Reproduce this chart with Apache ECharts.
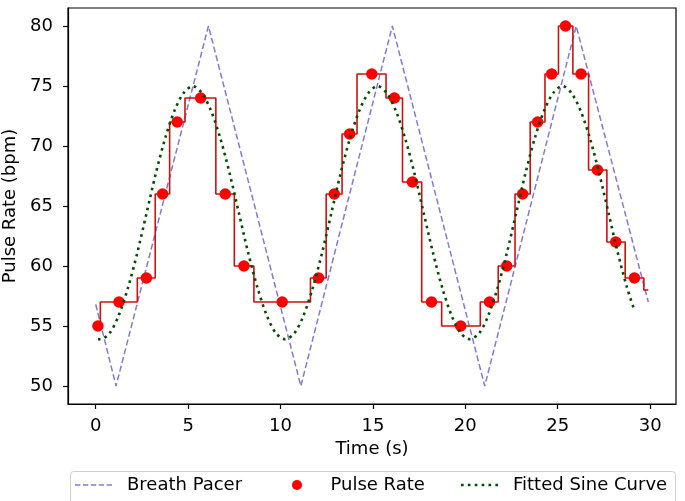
<!DOCTYPE html>
<html>
<head>
<meta charset="utf-8">
<script src="https://cdn.jsdelivr.net/npm/echarts@6/dist/echarts.min.js"></script>
<style>html,body{margin:0;padding:0;background:#fff;}#c{width:685px;height:501px;}</style>
</head>
<body>
<div id="c"></div>
<script>
// ---- data ----
var xTicks = [0, 5, 10, 15, 20, 25, 30];
var yTicks = [50, 55, 60, 65, 70, 75, 80];

var pacerTimes  = [0, 1.1, 6.1, 11.1, 16.05, 21.05, 26.0, 29.9];
var pacerValues = [56.8, 50, 80, 50, 80, 50, 80, 57];

var stepEdges  = [0, 0.25, 2.25, 3.22, 4.0, 4.83, 6.5, 7.5, 8.56, 11.62, 12.47, 13.33, 14.14, 15.71, 16.6, 17.64, 18.72, 20.81, 21.78, 22.69, 23.51, 24.31, 25.04, 25.82, 26.67, 27.66, 28.65, 29.66, 29.9];
var stepValues = [55, 57, 59, 66, 72, 74, 66, 60, 57, 59, 66, 71, 76, 74, 67, 57, 55, 57, 60, 66, 72, 76, 80, 76, 68, 62, 59, 58];

var pulseTimes  = [0.12, 1.26, 2.74, 3.62, 4.41, 5.68, 7.01, 8.02, 10.09, 12.06, 12.91, 13.74, 14.94, 16.16, 17.14, 18.17, 19.75, 21.31, 22.24, 23.1, 23.91, 24.67, 25.42, 26.26, 27.15, 28.14, 29.15];
var pulseValues = [55, 57, 59, 66, 72, 74, 66, 60, 57, 59, 66, 71, 76, 74, 67, 57, 55, 57, 60, 66, 72, 76, 80, 76, 68, 62, 59];

var sineTimes = [0.12, 0.25, 0.75, 1.25, 1.75, 2.25, 2.75, 3.25, 3.75, 4.25, 4.75, 5.25, 5.75, 6.25, 6.75, 7.25, 7.75, 8.25, 8.75, 9.25, 9.75,
  10.25, 10.75, 11.25, 11.75, 12.25, 12.75, 13.25, 13.75, 14.25, 14.75, 15.25, 15.75, 16.25, 16.75, 17.25, 17.75, 18.25, 18.75, 19.25, 19.75,
  20.25, 20.75, 21.25, 21.75, 22.25, 22.75, 23.25, 23.75, 24.25, 24.75, 25.25, 25.75, 26.25, 26.75, 27.25, 27.75, 28.25, 28.75, 29.15];
var sineValues = [53.9, 53.9, 54.4, 55.9, 58.2, 61.1, 64.4, 67.7, 70.6, 72.9, 74.4, 75.0, 74.4, 72.9, 70.6, 67.7, 64.4, 61.1, 58.2, 55.9, 54.4,
  53.9, 54.4, 55.9, 58.2, 61.1, 64.4, 67.7, 70.6, 72.9, 74.4, 75.0, 74.4, 72.9, 70.6, 67.7, 64.4, 61.1, 58.2, 55.9, 54.4,
  53.9, 54.4, 55.9, 58.2, 61.1, 64.4, 67.7, 70.6, 72.9, 74.4, 75.0, 74.4, 72.9, 70.6, 67.7, 64.4, 61.1, 58.2, 56.3];

var legendNames = ['Breath Pacer', 'Pulse Rate', 'Fitted Sine Curve'];

function zip(a, b) { return a.map(function (v, i) { return [v, b[i]]; }); }

var stepData = zip(stepEdges.slice(0, stepValues.length), stepValues);
stepData.push([stepEdges[stepEdges.length - 1], stepValues[stepValues.length - 1]]);

// legend glyphs: dashed and dotted line samples
var dashIcon = 'path://M0,0h5v1.5h-5z M7.5,0h5v1.5h-5z M15,0h5v1.5h-5z M22.5,0h5v1.5h-5z M30,0h5v1.5h-5z';
var dotIcon  = 'path://M0,0h2.5v2.5h-2.5z M6.5,0h2.5v2.5h-2.5z M13,0h2.5v2.5h-2.5z M19.5,0h2.5v2.5h-2.5z M26,0h2.5v2.5h-2.5z M32.5,0h2.5v2.5h-2.5z';
var legendIcons = [dashIcon, 'circle', dotIcon];
var legendLefts = [75, 292, 461];

var FONT = 'DejaVu Sans';
var FS = 18;

var legends = legendNames.map(function (n, i) {
  return {
    data: [{name: n, icon: legendIcons[i]}],
    left: legendLefts[i], top: 476, orient: 'horizontal',
    itemWidth: 37, itemHeight: 10, padding: 0,
    symbolKeepAspect: true,
    textStyle: {fontFamily: FONT, fontSize: FS, color: '#000', padding: [0, 0, 0, 10]}
  };
});

var chart = echarts.init(document.getElementById('c'), null, {renderer: 'canvas'});
chart.setOption({
  animation: false,
  backgroundColor: '#fff',
  grid: {left: 68, right: 9, top: 8, bottom: 97, show: true, borderColor: '#000', borderWidth: 1.2, containLabel: false, outerBoundsMode: 'none'},
  xAxis: {
    type: 'value', min: -1.5, max: 31.4,
    name: 'Time (s)', nameLocation: 'middle', nameGap: 36,
    nameTextStyle: {fontFamily: FONT, fontSize: FS, color: '#000'},
    axisLine: {show: true, onZero: false, lineStyle: {color: '#000', width: 1.2}},
    axisTick: {show: true, inside: false, length: 5, lineStyle: {color: '#000', width: 1.2}, customValues: xTicks},
    axisLabel: {fontFamily: FONT, fontSize: FS, color: '#000', margin: 13, customValues: xTicks},
    splitLine: {show: false}
  },
  yAxis: {
    type: 'value', min: 48.5, max: 81.5,
    name: 'Pulse Rate (bpm)', nameLocation: 'middle', nameGap: 37, nameRotate: 90,
    nameTextStyle: {fontFamily: FONT, fontSize: FS, color: '#000'},
    axisLine: {show: true, onZero: false, lineStyle: {color: '#000', width: 1.2}},
    axisTick: {show: true, inside: false, length: 5, lineStyle: {color: '#000', width: 1.2}, customValues: yTicks},
    axisLabel: {fontFamily: FONT, fontSize: FS, color: '#000', margin: 15, customValues: yTicks},
    splitLine: {show: false}
  },
  legend: legends,
  graphic: [{
    type: 'rect', z: -1, silent: true,
    shape: {x: 70.5, y: 471.5, width: 605, height: 40, r: 3},
    style: {fill: 'none', stroke: '#d0d0d0', lineWidth: 1}
  }],
  series: [
    {
      name: 'Breath Pacer', type: 'line', data: zip(pacerTimes, pacerValues),
      symbol: 'none', z: 2,
      lineStyle: {color: '#8478d4', width: 1.5, type: [6, 3]},
      itemStyle: {color: '#8478d4'}
    },
    {
      name: 'Pulse Step', type: 'line', data: stepData, step: 'end',
      symbol: 'none', z: 3,
      lineStyle: {color: '#cc1111', width: 1.6},
      itemStyle: {color: '#cc1111'}
    },
    {
      name: 'Pulse Rate', type: 'scatter', data: zip(pulseTimes, pulseValues),
      symbol: 'circle', symbolSize: 11.5, z: 4,
      itemStyle: {color: '#ff0000', opacity: 1}
    },
    {
      name: 'Fitted Sine Curve', type: 'line', data: zip(sineTimes, sineValues),
      symbol: 'none', smooth: 0.3, z: 5,
      lineStyle: {color: '#004d00', width: 2.6, type: [2.6, 4.2]},
      itemStyle: {color: '#004d00'}
    }
  ]
});
</script>
</body>
</html>
